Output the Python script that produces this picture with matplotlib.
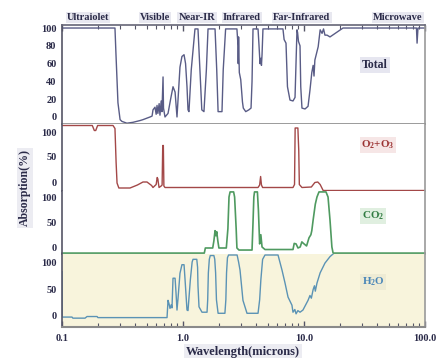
import matplotlib
matplotlib.use("Agg")
import matplotlib.pyplot as plt
from matplotlib.ticker import LogLocator, NullFormatter, NullLocator

plt.rcParams['font.family'] = ['Liberation Serif', 'DejaVu Serif']
plt.rcParams['font.weight'] = 'bold'
plt.rcParams['mathtext.default'] = 'regular'

# ---------------- data (wavelength in microns, absorption in %) ----------------
total_wl = [0.1, 0.274, 0.279, 0.290, 0.302, 0.313, 0.344, 0.386, 0.442, 0.467, 0.534, 0.555, 0.565,
            0.587, 0.60, 0.61, 0.62, 0.635, 0.645, 0.66, 0.67, 0.684, 0.69, 0.71, 0.752, 0.79, 0.827,
            0.86, 0.892, 0.944, 0.98, 1.02, 1.05, 1.079, 1.10, 1.12, 1.17, 1.256, 1.33, 1.38, 1.43,
            1.49, 1.56, 1.61, 1.84, 1.90, 1.95, 2.10, 2.15, 2.25, 2.79, 2.85, 2.86, 2.88, 2.92, 3.00,
            3.10, 3.15, 3.3, 3.5, 3.65, 3.72, 3.79, 4.17, 4.25, 4.33, 4.40, 4.45, 4.50, 4.58, 6.70,
            6.85, 7.10, 7.30, 7.66, 8.11, 8.43, 8.75, 8.85, 9.0, 9.27, 9.4, 9.62, 10.2, 10.8, 11.2,
            11.6, 11.9, 12.1, 12.3, 13.1, 13.6, 14.1, 14.5, 14.9, 15.5, 16.4, 21.0, 85.0, 86.0, 87.5, 100]
total_ab = [100, 100, 72, 16, -3, -5, -7, -6, -4, -3, 0, 1, 8,
            11, 3, 13, 4, 15, 2, 18, 6, 45, 10, 0, 4, 20, 34,
            28, 0, 56, 68, 70, 60, 34, 8, 6, 53, 99, 99, 53, 8,
            6, 53, 99, 99, 53, 6, 6, 53, 99, 99, 80, 60, 90, 50, 42,
            17, 10, 6, 8, 10, 40, 99, 99, 80, 60, 66, 58, 70, 99, 99,
            87, 83, 34, 19, 18, 22, 98, 95, 85, 80, 34, 10, 9, 12, 30,
            50, 58, 46, 64, 79, 98, 94, 99, 92, 92, 90, 100, 100, 83, 100, 100]

o2o3_wl = [0.1, 0.178, 0.185, 0.190, 0.197, 0.264, 0.274, 0.280, 0.285, 0.295, 0.365, 0.42, 0.467,
           0.504, 0.55, 0.565, 0.60, 0.612, 0.62, 0.625, 0.634, 0.66, 0.672, 0.680, 0.688, 0.695,
           0.71, 4.17, 4.30, 4.38, 4.45, 4.55, 8.11, 8.35, 8.45, 8.9, 9.05, 9.15, 9.62, 11.5, 12.3,
           13.0, 13.6, 14.4, 100]
o2o3_ab = [113, 113, 103, 103, 113, 113, 107, 39, -2, -12, -12, -6, 0,
           0, -7, -11, -5, 9, 6, -1, -11, -8, -6, 73, 73, -8,
           -11, -11, -6, 11, -6, -11, -11, -5, 108, 108, 63, -5, -11, -10, -1,
           0, -5, -17, -17]

co2_wl = [0.1, 1.50, 1.53, 1.76, 1.80, 1.84, 1.87, 1.90, 1.94, 1.98, 2.28, 2.35, 2.40, 2.45, 2.62,
          2.67, 2.75, 2.79, 2.9, 3.72, 3.79, 3.85, 3.90, 4.12, 4.20, 4.30, 4.40, 4.50, 4.76, 8.11,
          8.3, 8.6, 8.92, 9.3, 9.6, 9.9, 10.5, 11.0, 11.4, 11.6, 11.9, 12.4, 12.8, 13.3, 15.2, 15.8,
          16.4, 17.0, 17.4, 100]
co2_ab = [-10, -10, 0, 0, 14, 34, 24, 32, 14, 0, 0, 38, 100, 110, 110,
          100, 38, 0, -4, -4, 50, 100, 110, 110, 74, 8, 26, 2, -3, -3,
          9, 8, 0, 2, 12, 9, 4, 20, 26, 34, 55, 86, 100, 110, 110, 100,
          55, 2, -10, -10]

h2o_wl = [0.1, 0.1003, 0.121, 0.123, 0.155, 0.161, 0.195, 0.198, 0.738, 0.752, 0.766, 0.781, 0.80,
          0.811, 0.827, 0.86, 0.875, 0.892, 0.91, 0.944, 0.98, 1.02, 1.04, 1.079, 1.10, 1.15, 1.19,
          1.21, 1.30, 1.32, 1.33, 1.356, 1.435, 1.58, 1.60, 1.62, 1.65, 1.68, 1.80, 1.83, 1.86,
          1.89, 1.95, 2.22, 2.26, 2.29, 2.33, 2.38, 2.80, 2.88, 2.96, 3.13, 3.38, 4.17, 4.30, 4.40,
          4.55, 4.76, 6.10, 6.58, 6.97, 7.38, 7.95, 8.11, 8.4, 8.6, 8.9, 9.27, 9.8, 10.8, 11.2,
          11.5, 11.9, 12.2, 12.4, 12.8, 13.6, 14.9, 16.4, 17.4]
h2o_ab = [82, -2, -2, -4, -4, -1, -1, -3, -3, 29, 23, 14, 21,
          15, 70, 70, 44, 11, 33, 79, 95, 95, 67, 11, 10, 67, 100,
          105, 105, 90, 56, 17, 7, 7, 30, 80, 105, 112, 112, 105, 80,
          30, 5, 5, 30, 80, 108, 113, 113, 100, 85, 29, 5, 5, 30, 67,
          105, 113, 113, 85, 61, 35, 20, 7, 12, 4, 10, 7, 11, 29, 38,
          33, 49, 56, 46, 61, 80, 98, 110, 115]

band_labels = ['Ultraiolet', 'Visible', 'Near-IR', 'Infrared', 'Far-Infrared', 'Microwave']
band_centers = [0.164, 0.587, 1.305, 3.07, 9.62, 59.8]

x_ticks = [0.1, 1.0, 10.0, 100.0]
x_tick_labels = ['0.1', '1.0', '10.0', '100.0']

panel_ticks = {'total': [0, 20, 40, 60, 80, 100], 'other': [0, 50, 100]}

# ---------------- layout ----------------
W, H = 439, 358
fig = plt.figure(figsize=(W / 100, H / 100), dpi=100)

def rect(top, bottom, left=62, right=425):
    return [left / W, 1 - bottom / H, (right - left) / W, (bottom - top) / H]

navy = '#2a2a48'
ax1 = fig.add_axes(rect(25, 124))
ax2 = fig.add_axes(rect(124, 191))
ax3 = fig.add_axes(rect(191, 253.6))
ax4 = fig.add_axes(rect(253.6, 327))

ax1.set_ylim(-7.9, 103.4)
ax2.set_ylim(-18, 116)
ax3.set_ylim(-11.0, 111.8)
ax4.set_ylim(-20.4, 115.6)

ax1.plot(total_wl, total_ab, color='#595c86', lw=1.0)
ax2.plot(o2o3_wl, o2o3_ab, color='#a34848', lw=1.0)
ax3.plot(co2_wl, co2_ab, color='#4f9a60', lw=1.2, clip_on=False)
ax4.plot(h2o_wl, h2o_ab, color='#5b93b5', lw=1.0)
ax4.set_facecolor('#f8f4dc')

for ax in (ax1, ax2, ax3, ax4):
    ax.set_xscale('log')
    ax.set_xlim(0.1, 100)
    ax.tick_params(axis='y', length=0, pad=4, labelsize=7.5, labelcolor=navy)
    for lab in ax.get_yticklabels():
        lab.set_fontweight('bold')
    ax.spines['left'].set_color('#555566')
    ax.spines['right'].set_color('#9a9a9a')
    ax.spines['left'].set_linewidth(1.2)
    ax.spines['right'].set_linewidth(1.2)
    ax.spines['top'].set_visible(False)
    ax.spines['bottom'].set_visible(False)
    ax.xaxis.set_minor_formatter(NullFormatter())

ax1.set_yticks(panel_ticks['total'])
for ax in (ax2, ax3, ax4):
    ax.set_yticks(panel_ticks['other'])

ax1.spines['top'].set_visible(True)
ax1.spines['top'].set_color('#666677')
ax1.spines['top'].set_linewidth(1.2)
ax1.spines['bottom'].set_visible(True)
ax1.spines['bottom'].set_color('#8a8a8a')
ax1.spines['bottom'].set_linewidth(1.2)
ax4.spines['bottom'].set_visible(True)
ax4.spines['bottom'].set_color('#8a8a8a')
ax4.spines['bottom'].set_linewidth(1.5)

ax1.xaxis.set_major_locator(LogLocator(base=10))
ax1.xaxis.set_minor_locator(LogLocator(base=10, subs=range(2, 10)))
ax1.tick_params(axis='x', which='both', top=True, bottom=False, labelbottom=False,
                direction='in', color='#555566')
ax1.tick_params(axis='x', which='major', length=4, width=1)
ax1.tick_params(axis='x', which='minor', length=3, width=0.8)

for ax in (ax2, ax3):
    ax.xaxis.set_major_locator(NullLocator())
    ax.xaxis.set_minor_locator(NullLocator())

ax4.set_xticks(x_ticks)
ax4.set_xticklabels(x_tick_labels)
ax4.xaxis.set_minor_locator(LogLocator(base=10, subs=range(2, 10)))
ax4.tick_params(axis='x', which='both', direction='in', color='#555566', labelsize=7.5,
                labelcolor=navy, pad=5)
ax4.tick_params(axis='x', which='major', length=4, width=1)
ax4.tick_params(axis='x', which='minor', length=3, width=0.8)
for lab in ax4.get_xticklabels():
    lab.set_fontweight('bold')

# band labels on top
for name, c in zip(band_labels, band_centers):
    ax1.text(c, 1.0, name, transform=ax1.get_xaxis_transform(), ha='center', va='bottom',
             fontsize=7.5, fontweight='bold', color=navy,
             bbox=dict(boxstyle='square,pad=0.12', fc='#e8e8f0', ec='none'))
    # shift slightly above the frame
for t in ax1.texts:
    t.set_y(1.03)

def ftext(x, y, s, color, bg, size=8.5, **kw):
    fig.text(x / W, 1 - y / H, s, ha='center', va='center', fontsize=size, fontweight='bold',
             color=color, bbox=dict(boxstyle='square,pad=0.15', fc=bg, ec='none'), **kw)

ftext(375, 65, 'Total', navy, '#e6e6f0')
ftext(378, 145, r'O$_{2}$+O$_{3}$', '#9b3232', '#f6e6e6', size=8)
ftext(373, 216, r'CO$_{2}$', '#2f7a40', '#e0efe0', size=8)
ftext(373, 282, r'H$_{2}$O', '#4a86b8', '#eeebd4', size=8)

ftext(25, 188, 'Absorption(%)', navy, '#ececf2', size=8.5, rotation=90)
ftext(243, 352, 'Wavelength(microns)', navy, '#ececf2', size=9)

fig.savefig('out.png', dpi=100)
